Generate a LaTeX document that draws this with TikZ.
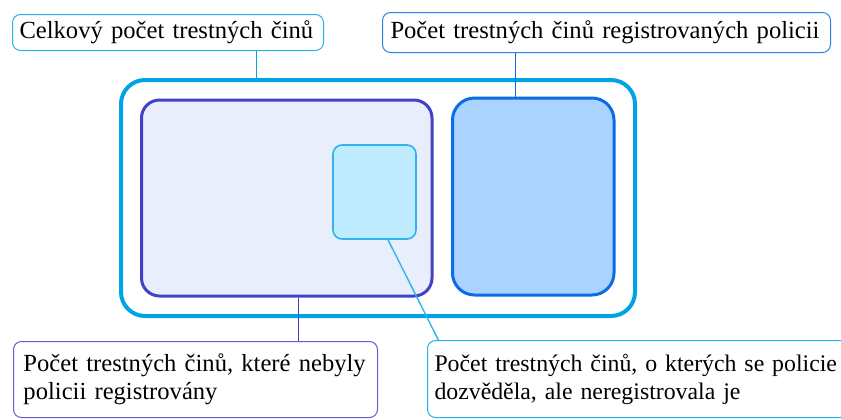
\documentclass[tikz,border=0pt]{standalone}
\usepackage{fontspec}
\setmainfont{Liberation Serif}
\usetikzlibrary{positioning, fit, calc}

\definecolor{allblue}{RGB}{0,163,228}
\definecolor{regblue}{RGB}{10,108,232}
\definecolor{regfill}{RGB}{170,212,255}
\definecolor{hidden}{RGB}{66,66,200}
\definecolor{hiddenfill}{RGB}{232,238,251}
\definecolor{knownline}{RGB}{48,178,236}
\definecolor{knownfill}{RGB}{190,235,255}

\begin{document}
\begin{tikzpicture}[
        x=0.5pt, y=-0.5pt,
        area/.style={draw, inner sep=0pt},
        tag/.style={draw, fill=white, rounded corners=4pt, line width=0.5pt,
            inner ysep=0pt, anchor=north west, align=left,
            font=\fontsize{12.3}{14}\selectfont},
        link/.style={line width=0.7pt}
    ]
        \fill[white] (0,0) rectangle (841,419);
        \useasboundingbox (0,0) rectangle (841,419);

        % Množiny trestných činů
        \node[area, fit={(121,80) (635,316)}, draw=allblue, line width=2pt, rounded corners=12pt] (all) {};
        \node[area, fit={(141.5,100) (432,296)}, draw=hidden, fill=hiddenfill, line width=1.5pt, rounded corners=9pt] (unreg) {};
        \node[area, fit={(452.5,98) (614,295)}, draw=regblue, fill=regfill, line width=1.5pt, rounded corners=11pt] (reg) {};
        \node[area, fit={(333,145) (416,239)}, draw=knownline, fill=knownfill, line width=0.8pt, rounded corners=4.5pt] (known) {};

        % Popisky
        \node[tag, draw=allblue!85, minimum width=155.5pt, minimum height=18pt, inner xsep=3.5pt, text width=148.5pt] (lab1) at (12,14) {Celkový počet trestných činů};
        \node[tag, draw=regblue!85, minimum width=224pt, minimum height=20pt, inner xsep=4pt, text width=216pt] (lab2) at (382,12) {Počet trestných činů registrovaných policii};
        \node[tag, draw=hidden!85, minimum width=182pt, minimum height=38pt, inner xsep=5pt, text width=172pt] (lab3) at (13,341) {\mbox{Počet trestných činů, které nebyly}\\ policii registrovány};
        \node[tag, draw=allblue!85, minimum width=210pt, minimum height=38.5pt, inner xsep=3.5pt, text width=203pt, font=\fontsize{11.9}{14}\selectfont] (lab4) at (427,340) {\mbox{Počet trestných činů, o kterých se policie}\\ dozvěděla, ale neregistrovala je};

        % Spojnice popisků
        \coordinate (p1) at ($(all.north west)!0.265!(all.north east)$);
        \coordinate (p2) at ($(reg.north west)!0.393!(reg.north east)$);
        \coordinate (p3) at ($(unreg.south west)!0.539!(unreg.south east)$);
        \coordinate (p4) at ($(known.south west)!0.66!(known.south east)$);
        \draw[link, allblue] (lab1.south -| p1) -- (p1);
        \draw[link, regblue] (lab2.south -| p2) -- (p2);
        \draw[link, hidden] (p3) -- (p3 |- lab3.north);
        \draw[link, knownline] (p4) -- ($(lab4.north west)!0.027!(lab4.north east)$);
    \end{tikzpicture}
\end{document}
